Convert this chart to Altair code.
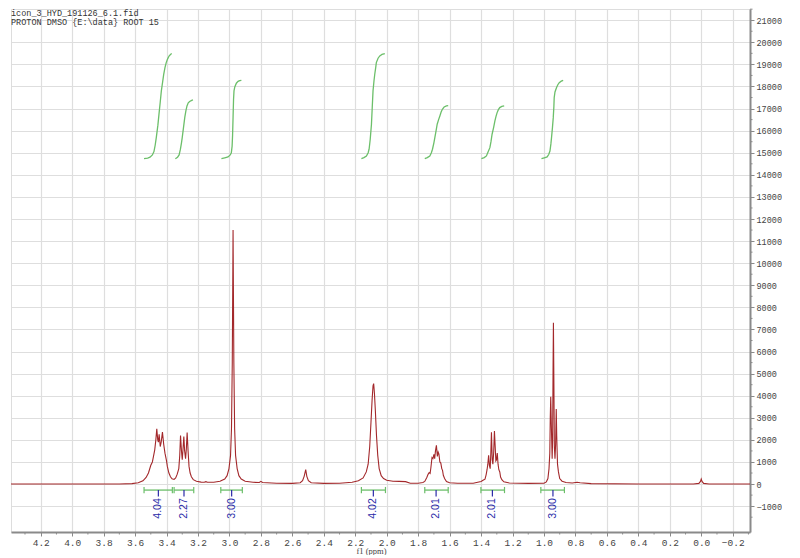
import altair as alt
import pandas as pd

# ---------------- data ----------------
spec_ppm = [4.389, 3.70, 3.62, 3.58, 3.55, 3.53, 3.515, 3.50, 3.49, 3.483, 3.475, 3.468, 3.462,
            3.456, 3.452, 3.447, 3.440, 3.434, 3.426, 3.418, 3.41, 3.40, 3.395, 3.385, 3.375,
            3.365, 3.352, 3.342, 3.332, 3.322, 3.316, 3.311, 3.305, 3.300, 3.295, 3.290, 3.285,
            3.279, 3.274, 3.269, 3.263, 3.257, 3.250, 3.242, 3.23, 3.21, 3.18, 3.16, 3.15, 3.14,
            3.10, 3.06, 3.03, 3.015, 3.003, 2.993, 2.987, 2.982, 2.979, 2.977, 2.975, 2.972,
            2.967, 2.961, 2.951, 2.94, 2.925, 2.90, 2.85, 2.81, 2.80, 2.79, 2.70, 2.60, 2.55,
            2.535, 2.525, 2.515, 2.508, 2.498, 2.48, 2.40, 2.30, 2.22, 2.18, 2.15, 2.13, 2.118,
            2.108, 2.10, 2.093, 2.087, 2.083, 2.078, 2.072, 2.065, 2.057, 2.048, 2.035, 2.02,
            2.00, 1.96, 1.92, 1.88, 1.85, 1.80, 1.77, 1.758, 1.745, 1.737, 1.730, 1.724, 1.719,
            1.712, 1.706, 1.700, 1.695, 1.690, 1.684, 1.678, 1.673, 1.668, 1.662, 1.656, 1.650,
            1.645, 1.640, 1.632, 1.620, 1.60, 1.55, 1.45, 1.40, 1.385, 1.375, 1.368, 1.362,
            1.357, 1.352, 1.347, 1.342, 1.338, 1.334, 1.329, 1.325, 1.320, 1.315, 1.311, 1.306,
            1.302, 1.297, 1.292, 1.287, 1.281, 1.276, 1.268, 1.255, 1.22, 1.10, 1.00, 0.985,
            0.975, 0.968, 0.963, 0.960, 0.957, 0.953, 0.948, 0.945, 0.942, 0.940, 0.938, 0.934,
            0.930, 0.926, 0.922, 0.919, 0.914, 0.908, 0.900, 0.885, 0.86, 0.82, 0.79, 0.77,
            0.70, 0.40, 0.05, 0.015, 0.005, 0.0, -0.005, -0.015, -0.05, -0.31]
spec_int = [0, 0, 20, 60, 150, 300, 500, 850, 1000, 1250, 1550, 2000, 2500,
            2000, 1900, 2250, 1700, 1900, 2350, 1800, 1400, 1050, 800, 500, 330,
            240, 210, 280, 450, 700, 1300, 2200, 1500, 1100, 1600, 2150, 1500,
            1150, 1600, 2330, 1500, 800, 500, 330, 200, 130, 90, 80, 110, 80,
            80, 130, 230, 380, 700, 1300, 2500, 5500, 9000, 11500, 9000, 5500,
            2500, 1300, 700, 380, 230, 130, 80, 70, 120, 70, 40, 30, 60,
            150, 350, 650, 350, 150, 60, 30, 40, 80, 150, 280, 550, 900,
            1700, 2800, 3800, 4450, 4550, 4100, 3300, 2200, 1300, 700, 380, 250,
            170, 130, 120, 110, 40, 40, 70, 120, 300, 440, 520, 480, 750,
            1200, 1150, 1350, 1150, 1500, 1750, 1250, 1450, 1350, 1000, 950, 700,
            620, 400, 250, 110, 60, 40, 40, 120, 180, 220, 420, 650,
            900, 1300, 850, 700, 1400, 2350, 1100, 900, 1400, 2400, 1800, 1050,
            1100, 1400, 900, 650, 550, 320, 200, 100, 50, 30, 40, 100,
            250, 700, 1400, 3000, 3950, 2600, 1150, 2000, 5500, 7300, 5500, 1700,
            1150, 1800, 3400, 2200, 900, 550, 250, 130, 70, 50, 80, 60,
            20, 0, 0, 30, 120, 230, 120, 30, 0, 0]

integral_ppm = [
    [3.543, 3.520, 3.505, 3.490, 3.480, 3.472, 3.465, 3.455, 3.448, 3.440, 3.433, 3.425,
     3.418, 3.410, 3.402, 3.393, 3.384, 3.375, 3.367],
    [3.344, 3.330, 3.320, 3.312, 3.305, 3.300, 3.292, 3.284, 3.277, 3.270, 3.262, 3.253,
     3.240, 3.232],
    [3.051, 3.030, 3.009, 2.995, 2.988, 2.983, 2.980, 2.977, 2.974, 2.971, 2.966, 2.956,
     2.945, 2.935, 2.924],
    [2.161, 2.145, 2.129, 2.118, 2.112, 2.105, 2.097, 2.092, 2.087, 2.081, 2.076, 2.070,
     2.066, 2.055, 2.044, 2.030, 2.012],
    [1.758, 1.742, 1.726, 1.716, 1.709, 1.700, 1.694, 1.686, 1.679, 1.670, 1.662, 1.654,
     1.646, 1.635, 1.620, 1.609],
    [1.398, 1.380, 1.366, 1.355, 1.344, 1.337, 1.330, 1.320, 1.312, 1.305, 1.298, 1.290,
     1.281, 1.268, 1.253],
    [1.016, 0.998, 0.980, 0.970, 0.962, 0.956, 0.952, 0.946, 0.941, 0.937, 0.935, 0.930,
     0.920, 0.912, 0.903, 0.890, 0.878],
]
integral_val = [
    [14730, 14760, 14800, 14900, 15050, 15350, 15700, 16250, 16750, 17300, 17800, 18200,
     18550, 18850, 19080, 19250, 19380, 19450, 19490],
    [14730, 14800, 14900, 15150, 15450, 15700, 16150, 16600, 16900, 17120, 17260, 17320,
     17370, 17390],
    [14730, 14770, 14810, 14900, 15000, 15300, 15800, 16600, 17400, 17800, 17980, 18150,
     18230, 18265, 18280],
    [14730, 14780, 14855, 15000, 15160, 15600, 16290, 17050, 17800, 18250, 18555, 18850,
     19080, 19280, 19384, 19450, 19488],
    [14730, 14780, 14855, 15000, 15160, 15450, 15684, 16000, 16290, 16500, 16667, 16840,
     16970, 17070, 17120, 17130],
    [14730, 14780, 14855, 15050, 15230, 15500, 15838, 16150, 16440, 16650, 16817, 16950,
     17045, 17100, 17120],
    [14730, 14770, 14810, 14920, 15080, 15400, 15684, 16150, 16590, 17100, 17496, 17750,
     17950, 18080, 18175, 18240, 18280],
]

bar_start = [3.543, 3.352, 3.055, 2.161, 1.758, 1.401, 1.020]
bar_end = [3.363, 3.227, 2.918, 2.008, 1.609, 1.251, 0.870]
bar_center = [3.452, 3.289, 2.986, 2.085, 1.686, 1.328, 0.943]
bar_label = ["4.04", "2.27", "3.00", "4.02", "2.01", "2.01", "3.00"]

x_ticks = [4.2, 4.0, 3.8, 3.6, 3.4, 3.2, 3.0, 2.8, 2.6, 2.4, 2.2, 2.0, 1.8, 1.6, 1.4, 1.2,
           1.0, 0.8, 0.6, 0.4, 0.2, 0.0, -0.2]
x_minor = [4.3, 4.1, 3.9, 3.7, 3.5, 3.3, 3.1, 2.9, 2.7, 2.5, 2.3, 2.1, 1.9, 1.7, 1.5, 1.3,
           1.1, 0.9, 0.7, 0.5, 0.3, 0.1, -0.1, -0.3]
y_ticks = [-1000, 0, 1000, 2000, 3000, 4000, 5000, 6000, 7000, 8000, 9000, 10000, 11000,
           12000, 13000, 14000, 15000, 16000, 17000, 18000, 19000, 20000, 21000]
y_minor = [-1500, -500, 500, 1500, 2500, 3500, 4500, 5500, 6500, 7500, 8500, 9500, 10500,
           11500, 12500, 13500, 14500, 15500, 16500, 17500, 18500, 19500, 20500, 21500]

header_1 = "icon_3_HYD_191126_6.1.fid"
header_2 = "PROTON DMSO {E:\\data} ROOT 15"

# ---------------- layout / style ----------------
W, H = 739, 523
X_DOMAIN = [4.389, -0.31]
Y_DOMAIN = [-2170, 21508]
SPEC_COLOR = "#a3282b"
INT_COLOR = "#6cbf6a"
LAB_COLOR = "#2a2aa8"
AX_COLOR = "#8a8a8a"
GRID = "#dedede"
MONO = "Liberation Mono"

xs = alt.Scale(domain=X_DOMAIN, nice=False, zero=False)
ys = alt.Scale(domain=Y_DOMAIN, nice=False, zero=False)

x_axis = alt.Axis(values=x_ticks, format=".1f", title="f1 (ppm)", grid=True, gridColor=GRID,
                  gridWidth=1.2, domainColor=AX_COLOR, domainWidth=2, tickColor=AX_COLOR,
                  tickSize=4, tickWidth=1, labelFont=MONO, labelFontSize=9.5,
                  labelColor="#444444", labelPadding=1, labelFlush=False,
                  titleFont="Liberation Serif", titleFontSize=8.5, titleFontWeight="normal",
                  titleColor="#444444", titlePadding=0, titleX=360, titleAlign="center")
y_axis = alt.Axis(orient="right", values=y_ticks, format="d", title=None, grid=True,
                  gridColor=GRID, gridWidth=1.2, domainColor=AX_COLOR, domainWidth=2,
                  tickColor=AX_COLOR, tickSize=4, labelFont=MONO, labelFontSize=8.5,
                  labelColor="#444444", labelPadding=2, labelFlush=False)


def X(field):
    return alt.X(field, type="quantitative", scale=xs, axis=x_axis)


def Y(field):
    return alt.Y(field, type="quantitative", scale=ys, axis=y_axis)


spec_df = pd.DataFrame({"ppm": spec_ppm, "val": spec_int})
int_rows = []
for k, (pp, vv) in enumerate(zip(integral_ppm, integral_val)):
    for p, v in zip(pp, vv):
        int_rows.append({"curve": k, "ppm": p, "val": v})
int_df = pd.DataFrame(int_rows)
bar_df = pd.DataFrame({"start": bar_start, "end": bar_end, "center": bar_center,
                       "label": bar_label})
end_df = pd.DataFrame({"ppm": bar_start + bar_end})

spectrum = alt.Chart(spec_df).mark_line(color=SPEC_COLOR, strokeWidth=1.1).encode(
    x=X("ppm"), y=Y("val"))

integrals = alt.Chart(int_df).mark_line(color=INT_COLOR, strokeWidth=1.3).encode(
    x=X("ppm"), y=Y("val"), detail="curve:N")

bars = alt.Chart(bar_df).mark_rule(color=INT_COLOR, strokeWidth=1.3).encode(
    x=X("start"), x2="end", y=alt.Y(datum=-272, scale=ys, axis=y_axis))

bar_ends = alt.Chart(end_df).mark_rule(color=INT_COLOR, strokeWidth=1.2).encode(
    x=X("ppm"), y=alt.Y(datum=-130, scale=ys, axis=y_axis), y2=alt.datum(-410))

bar_mid = alt.Chart(bar_df).mark_rule(color=LAB_COLOR, strokeWidth=1.2).encode(
    x=X("center"), y=alt.Y(datum=-272, scale=ys, axis=y_axis), y2=alt.datum(-560))

bar_text = alt.Chart(bar_df).mark_text(
    angle=270, align="right", baseline="middle", font="Liberation Sans", fontSize=10.5,
    color=LAB_COLOR).encode(
    x=X("center"), y=alt.Y(datum=-640, scale=ys, axis=y_axis), text="label:N")

x_minor_ticks = alt.Chart(pd.DataFrame({"v": x_minor})).mark_rule(
    color=AX_COLOR, strokeWidth=1).encode(x=X("v"), y=alt.value(H), y2=alt.value(H + 2.5))

y_minor_ticks = alt.Chart(pd.DataFrame({"v": y_minor})).mark_rule(
    color=AX_COLOR, strokeWidth=1).encode(y=Y("v"), x=alt.value(W), x2=alt.value(W + 2.5))

head1 = alt.Chart(pd.DataFrame({"t": [header_1]})).mark_text(
    align="left", baseline="top", font=MONO, fontSize=8.5, color="#333333").encode(
    x=alt.value(0), y=alt.value(0), text="t:N")
head2 = alt.Chart(pd.DataFrame({"t": [header_2]})).mark_text(
    align="left", baseline="top", font=MONO, fontSize=8.5, color="#333333").encode(
    x=alt.value(0), y=alt.value(9), text="t:N")

chart = alt.layer(
    spectrum, integrals, bars, bar_ends, bar_mid, bar_text, x_minor_ticks, y_minor_ticks,
    head1, head2
).properties(
    width=W, height=H, padding={"left": 0, "top": 0, "right": 0, "bottom": 0}
).configure_view(stroke=None).configure(background="white")

chart.save("out.html", embed_options={"renderer": "svg", "actions": False})
